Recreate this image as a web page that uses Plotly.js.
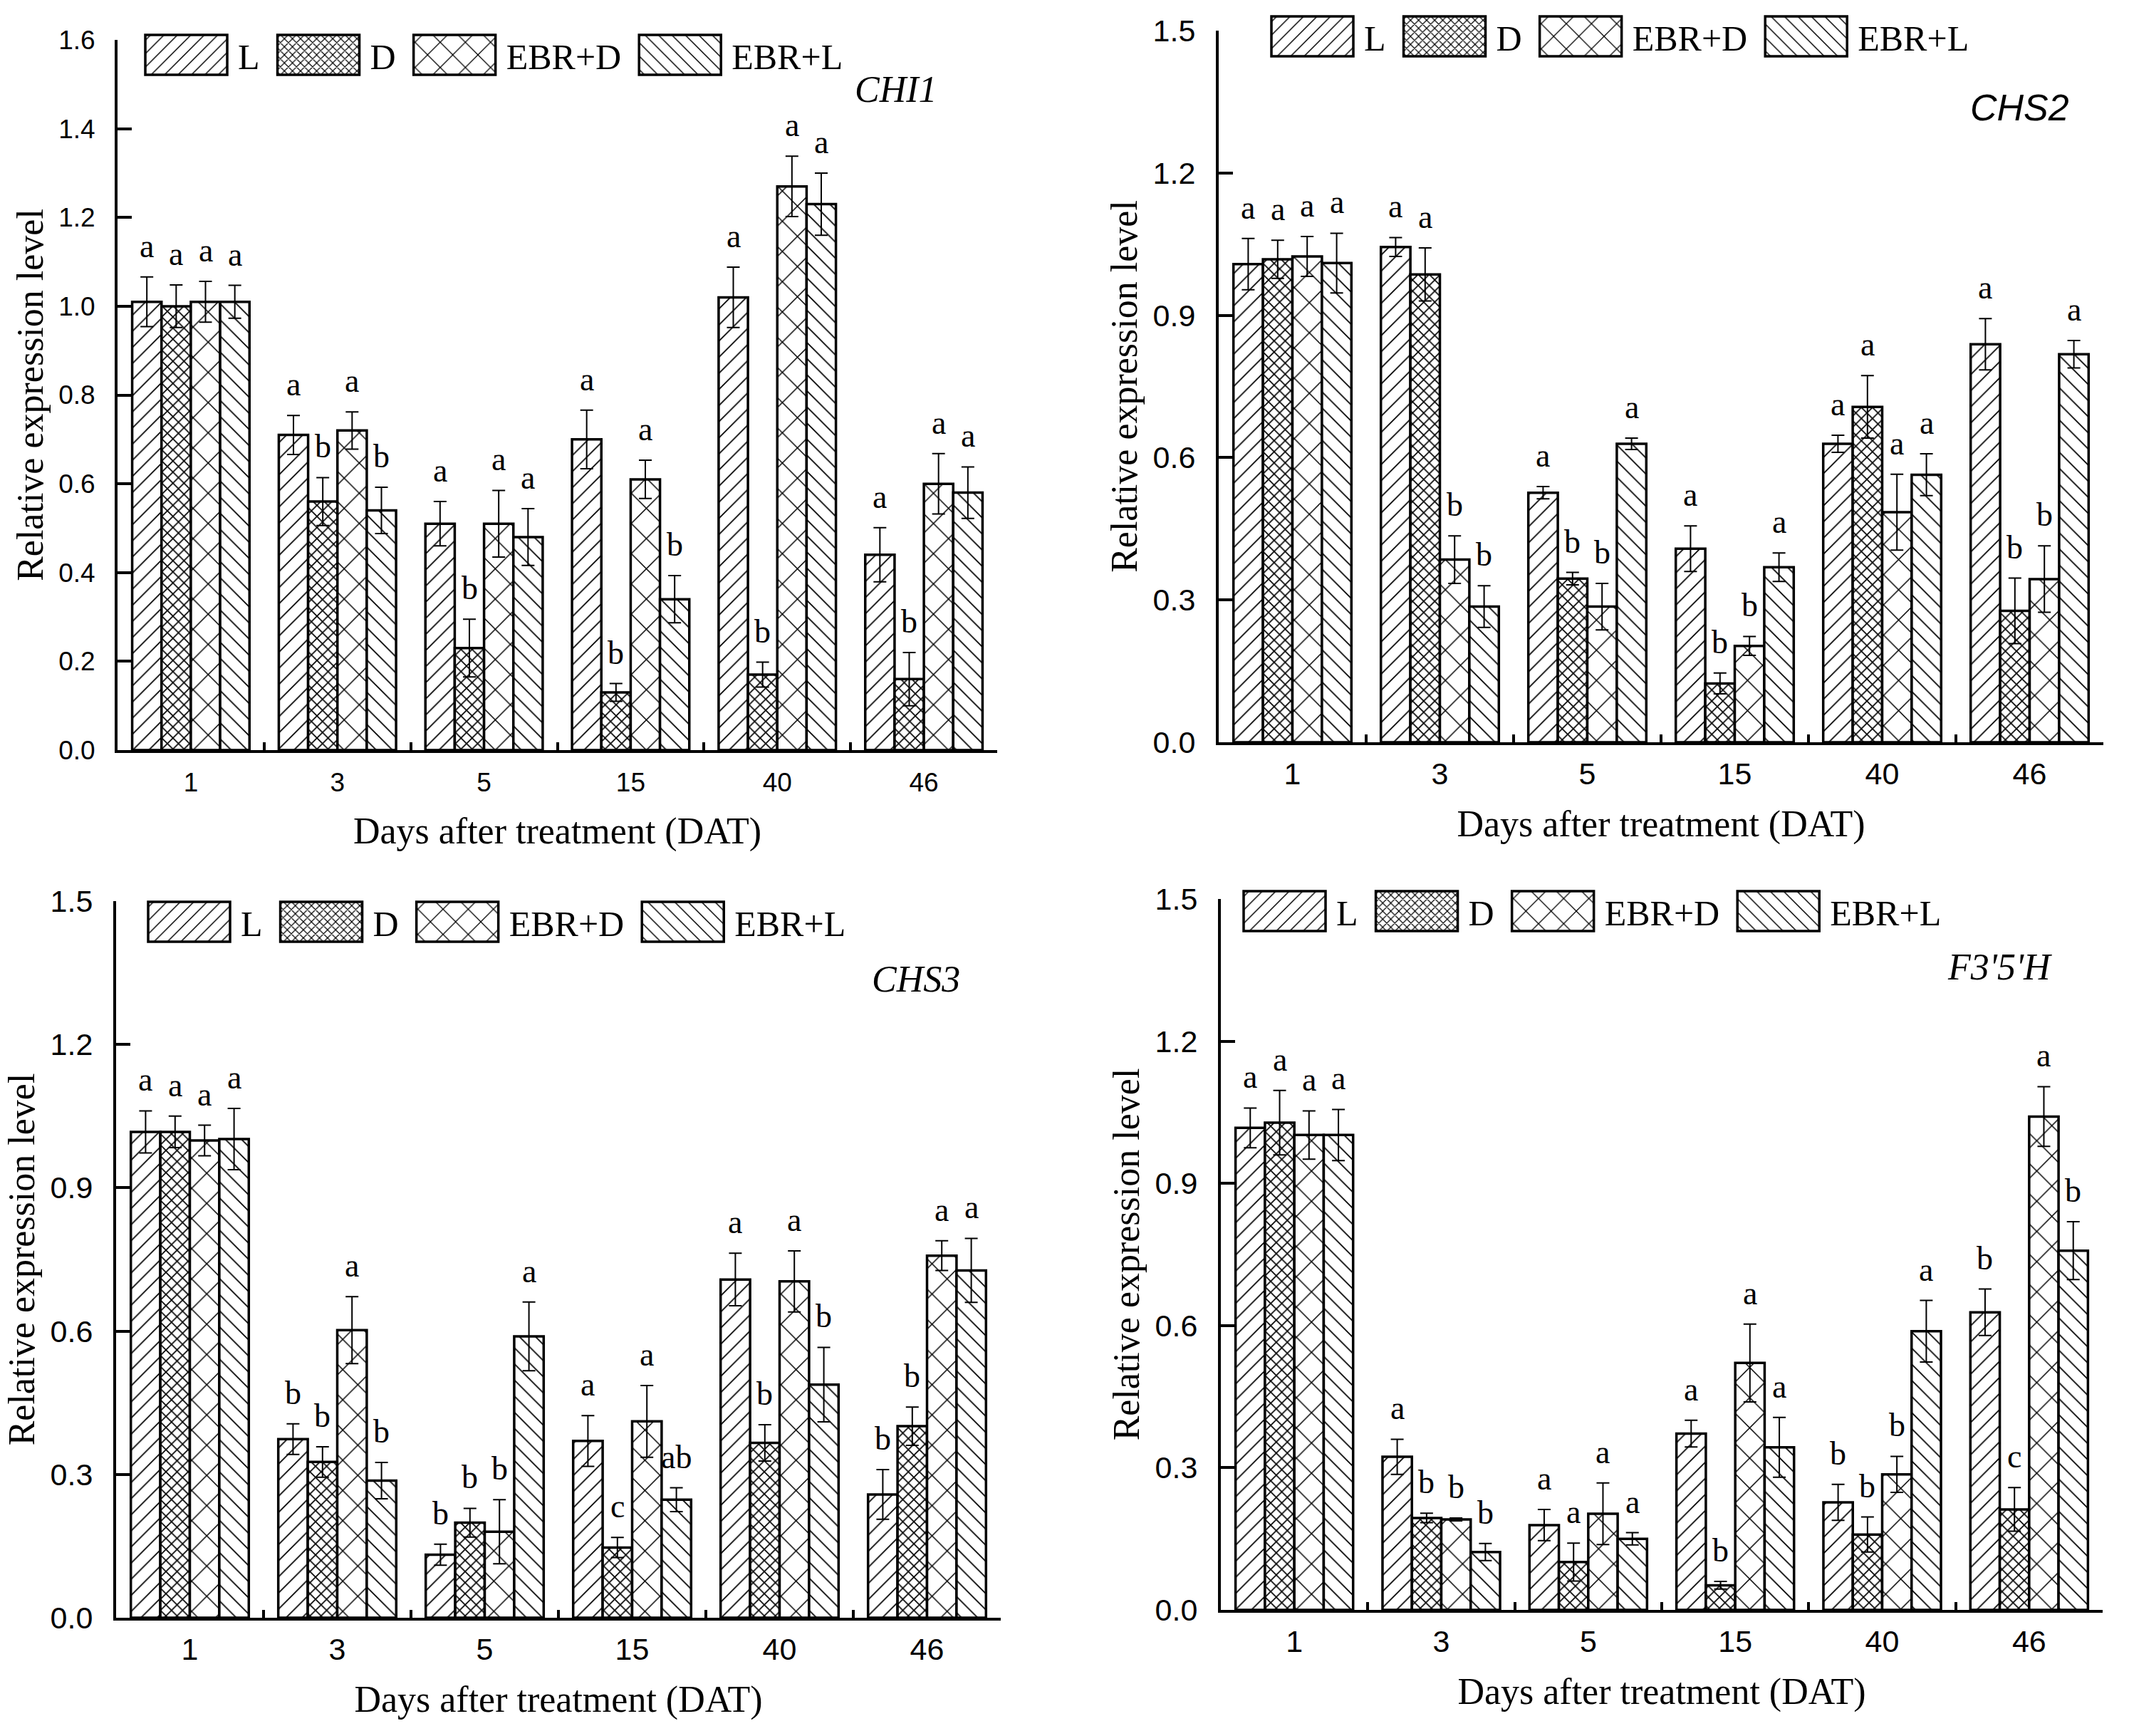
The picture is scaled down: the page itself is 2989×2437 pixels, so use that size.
<!DOCTYPE html>
<html>
<head>
<meta charset="utf-8">
<script src="https://cdn.plot.ly/plotly-3.0.1.min.js"></script>
<style>
  html, body { margin: 0; padding: 0; background: #fff; }
  #fig { width: 2989px; height: 2437px; }
</style>
</head>
<body>
<div id="fig"></div>
<script>
/* Relative expression of four flavonoid genes under L / D / EBR+D / EBR+L,
   values (mean, error, significance letter). */

const days = ["1", "3", "5", "15", "40", "46"];
const treatments = ["L", "D", "EBR+D", "EBR+L"];

// rows follow `treatments`, columns follow `days`
const chi1Mean = [
  [1.01, 0.71, 0.51, 0.70, 1.02, 0.44],
  [1.00, 0.56, 0.23, 0.13, 0.17, 0.16],
  [1.01, 0.72, 0.51, 0.61, 1.27, 0.60],
  [1.01, 0.54, 0.48, 0.34, 1.23, 0.58],
];
const chi1Err = [
  [0.056, 0.044, 0.050, 0.066, 0.068, 0.061],
  [0.048, 0.054, 0.065, 0.020, 0.028, 0.060],
  [0.046, 0.042, 0.075, 0.043, 0.068, 0.068],
  [0.037, 0.052, 0.064, 0.053, 0.070, 0.058],
];
const chi1Sig = [
  ["a", "a", "a", "a", "a", "a"],
  ["a", "b", "b", "b", "b", "b"],
  ["a", "a", "a", "a", "a", "a"],
  ["a", "b", "a", "b", "a", "a"],
];

const chs2Mean = [
  [1.008, 1.044, 0.526, 0.408, 0.629, 0.839],
  [1.018, 0.986, 0.345, 0.124, 0.707, 0.277],
  [1.024, 0.385, 0.286, 0.203, 0.485, 0.344],
  [1.010, 0.286, 0.629, 0.369, 0.564, 0.818],
];
const chs2Err = [
  [0.054, 0.020, 0.013, 0.048, 0.018, 0.054],
  [0.040, 0.056, 0.013, 0.022, 0.066, 0.069],
  [0.042, 0.050, 0.049, 0.020, 0.080, 0.070],
  [0.063, 0.044, 0.012, 0.030, 0.044, 0.029],
];
const chs2Sig = [
  ["a", "a", "a", "a", "a", "a"],
  ["a", "a", "b", "b", "a", "b"],
  ["a", "b", "b", "b", "a", "b"],
  ["a", "b", "a", "a", "a", "a"],
];

const chs3Mean = [
  [1.017, 0.374, 0.132, 0.370, 0.708, 0.258],
  [1.017, 0.326, 0.199, 0.147, 0.366, 0.401],
  [0.999, 0.602, 0.180, 0.411, 0.704, 0.758],
  [1.002, 0.287, 0.589, 0.247, 0.488, 0.727],
];
const chs3Err = [
  [0.044, 0.032, 0.022, 0.053, 0.055, 0.052],
  [0.033, 0.032, 0.030, 0.021, 0.038, 0.040],
  [0.032, 0.070, 0.067, 0.075, 0.064, 0.031],
  [0.064, 0.038, 0.072, 0.025, 0.078, 0.067],
];
const chs3Sig = [
  ["a", "b", "b", "a", "a", "b"],
  ["a", "b", "b", "c", "b", "b"],
  ["a", "a", "b", "a", "a", "a"],
  ["a", "b", "a", "ab", "b", "a"],
];

const f35hMean = [
  [1.017, 0.323, 0.179, 0.372, 0.227, 0.628],
  [1.028, 0.194, 0.101, 0.052, 0.159, 0.212],
  [1.002, 0.191, 0.203, 0.521, 0.286, 1.041],
  [1.002, 0.122, 0.150, 0.343, 0.588, 0.758],
];
const f35hErr = [
  [0.042, 0.037, 0.033, 0.028, 0.038, 0.049],
  [0.068, 0.010, 0.040, 0.008, 0.037, 0.046],
  [0.051, 0.003, 0.065, 0.082, 0.038, 0.063],
  [0.054, 0.018, 0.013, 0.063, 0.065, 0.061],
];
const f35hSig = [
  ["a", "a", "a", "a", "b", "b"],
  ["a", "b", "a", "b", "b", "c"],
  ["a", "b", "a", "a", "b", "a"],
  ["a", "b", "a", "a", "a", "b"],
];

/* ---- styling ---- */
const W = 2989, H = 2437;
const SERIF = "Liberation Serif, Times New Roman, serif";
const SANS = "Liberation Sans, Arial, sans-serif";
const BAR_GAP = 0.2;
const barW = (1 - BAR_GAP) / treatments.length;   // bar width in category units
const LEGEND_TILE = 12;                           // plotly caps legend pattern tiles at this

// fill pattern per treatment (display concern)
const PATTERNS = [
  { shape: "/",  size: 16, solidity: 0.11 },
  { shape: "x",  size: 11, solidity: 0.28 },
  { shape: "x",  size: 30, solidity: 0.10 },
  { shape: "\\", size: 16, solidity: 0.11 },
];

// panel frames in page pixels: [left, right, top, bottom]
const panels = [
  { gene: "CHI1",   mean: chi1Mean, err: chi1Err, sig: chi1Sig, ymax: 1.6, dtick: 0.2,
    box: [165, 1400, 56, 1053],   tickSize: 37, xStand: 10, geneFont: SERIF, geneAt: [1318, 126], legendAt: [184, 77] },
  { gene: "CHS2",   mean: chs2Mean, err: chs2Err, sig: chs2Sig, ymax: 1.5, dtick: 0.3,
    box: [1711, 2953, 43, 1042],  tickSize: 43, xStand: 3,  geneFont: SANS,  geneAt: [2907, 151], legendAt: [1765, 51] },
  { gene: "CHS3",   mean: chs3Mean, err: chs3Err, sig: chs3Sig, ymax: 1.5, dtick: 0.3,
    box: [163, 1405, 1265, 2271], tickSize: 43, xStand: 3,  geneFont: SERIF, geneAt: [1350, 1374], legendAt: [188, 1294] },
  { gene: "F3'5'H", mean: f35hMean, err: f35hErr, sig: f35hSig, ymax: 1.5, dtick: 0.3,
    box: [1714, 2952, 1262, 2260], tickSize: 43, xStand: 3, geneFont: SERIF, geneAt: [2883, 1357], legendAt: [1726, 1279] },
];

const data = [];
const annotations = [];
const layout = {
  width: W, height: H,
  margin: { l: 0, r: 0, t: 0, b: 0 },
  paper_bgcolor: "#fff", plot_bgcolor: "#fff",
  barmode: "group", bargap: BAR_GAP, bargroupgap: 0,
  font: { family: SERIF, color: "#000" },
  showlegend: true,
};

panels.forEach((p, k) => {
  const n = k === 0 ? "" : String(k + 1);
  const xa = "x" + n, ya = "y" + n;
  const legendId = "legend" + n;
  const [l, r, t, b] = p.box;

  treatments.forEach((name, j) => {
    data.push({
      type: "bar", name: name, x: days, y: p.mean[j],
      xaxis: xa, yaxis: ya, legend: legendId,
      marker: {
        color: "#fff",
        line: { color: "#000", width: 3.5 },
        pattern: { ...PATTERNS[j], fgcolor: "#000", bgcolor: "#fff", fillmode: "replace" },
      },
      error_y: { type: "data", array: p.err[j], visible: true, color: "#000", thickness: 2, width: 9 },
      hoverinfo: "skip",
    });

    // significance letters sit above each error bar
    days.forEach((d, i) => {
      annotations.push({
        xref: xa, yref: ya,
        x: i + (j - (treatments.length - 1) / 2) * barW,
        y: p.mean[j][i] + p.err[j][i],
        text: p.sig[j][i], showarrow: false,
        xanchor: "center", yanchor: "bottom", yshift: 16,
        font: { family: SERIF, size: 46, color: "#000" },
      });
    });
  });

  layout["xaxis" + n] = {
    domain: [l / W, r / W], anchor: ya, type: "category",
    showline: true, linecolor: "#000", linewidth: 4,
    ticks: "inside", tickson: "boundaries", ticklen: 11, tickwidth: 4, tickcolor: "#000",
    ticklabelstandoff: p.xStand,
    tickfont: { family: SANS, size: p.tickSize, color: "#000" },
    showgrid: false, zeroline: false,
    title: { text: "Days after treatment (DAT)", font: { family: SERIF, size: 52 }, standoff: 30 },
  };
  layout["yaxis" + n] = {
    domain: [1 - b / H, 1 - t / H], anchor: xa, range: [0, p.ymax],
    tick0: 0, dtick: p.dtick, tickformat: ".1f",
    showline: true, linecolor: "#000", linewidth: 4,
    ticks: "inside", ticklen: 20, tickwidth: 4, tickcolor: "#000",
    ticklabelstandoff: 20,
    tickfont: { family: SANS, size: p.tickSize, color: "#000" },
    showgrid: false, zeroline: false,
    title: { text: "Relative expression level", font: { family: SERIF, size: 52 }, standoff: 6 },
  };
  layout[legendId] = {
    orientation: "h", x: p.legendAt[0] / W, y: 1 - p.legendAt[1] / H,
    xanchor: "left", yanchor: "middle",
    bgcolor: "rgba(0,0,0,0)", borderwidth: 0,
    itemwidth: 140, itemclick: false, itemdoubleclick: false,
    font: { family: SERIF, size: 50, color: "#000" },
  };

  annotations.push({
    xref: "paper", yref: "paper",
    x: p.geneAt[0] / W, y: 1 - p.geneAt[1] / H,
    xanchor: "right", yanchor: "middle", showarrow: false,
    text: "<i>" + p.gene + "</i>",
    font: { family: p.geneFont, size: 52, color: "#000" },
  });
});

layout.annotations = annotations;

const gd = document.getElementById("fig");
Plotly.newPlot(gd, data, layout, { displayModeBar: false, responsive: false }).then(() => {
  // widen the legend swatches to the large boxes used in the figure,
  // and scale their pattern tiles back up to the bar pattern size
  const swatches = Array.from(gd.querySelectorAll("g.legendpoints path"))
    .filter(el => el.getAttribute("d") === "M6,6H-6V-6H6Z");
  swatches.forEach((el, idx) => {
    el.setAttribute("d", "M60,28H-55V-28H60Z");
    const pat = PATTERNS[idx % treatments.length];
    const fill = el.style.fill || el.getAttribute("fill") || "";
    const m = /url\(["']?#([^"')]+)["']?\)/.exec(fill);
    if (m && pat.size > LEGEND_TILE) {
      const def = document.getElementById(m[1]);
      if (def) def.setAttribute("patternTransform", "scale(" + (pat.size / LEGEND_TILE) + ")");
    }
  });
});
</script>
</body>
</html>
